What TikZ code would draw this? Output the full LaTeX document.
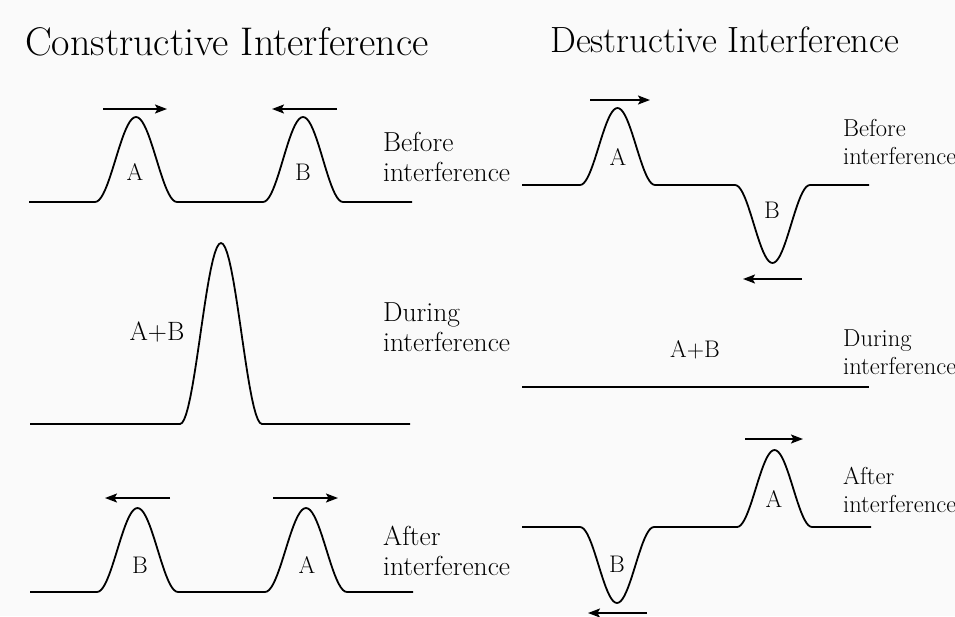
\documentclass[tikz,border=0pt]{standalone}
\usetikzlibrary{arrows.meta}

% one pulse of the string, from x=#1 to x=#2, top (or bottom) at y=#3, rest at y=#4
\newcommand{\bump}[4]{-- plot[domain=0:1, samples=41, variable=\t]
  ({#1+(#2-#1)*\t}, {#4+(#3-#4)*(1-cos(360*\t))/2})}

\begin{document}
\begin{tikzpicture}[x=1pt, y=-1pt,
        string/.style={line width=1.8pt, line join=round},
        motion/.style={line width=1.8pt,
          -{Stealth[length=12pt, width=9pt, inset=2.5pt]}},
        heading/.style={anchor=west, inner sep=0pt},
        caption/.style={anchor=west, align=left, inner sep=0pt,
          font=\fontsize{27.5}{30}\selectfont},
        letter/.style={inner sep=0pt, font=\fontsize{24}{28}\selectfont},
      ]
      \fill[white!98!black] (0,0) rectangle (955,616);
      \useasboundingbox (0,0) rectangle (955,616);

      % constructive interference
      \node[heading, font=\fontsize{40}{44}\selectfont] (titleC) at (25, 42)
      {Constructive Interference};

      \draw[string] (29,202) -- (95,202) \bump{95}{177}{117}{202}
        -- (263,202) \bump{263}{343}{117}{202} -- (412,202);
      \draw[motion] (103,109) -- (167,109);
      \draw[motion] (337,109) -- (272,109);
      \node[letter] (aBeforeC) at (135,172) {A};
      \node[letter] (bBeforeC) at (303,172) {B};
      \node[caption] (beforeC) at (383,157) {Before\\interference};

      \draw[string] (30,424) -- (180,424) \bump{180}{262}{243}{424}
        -- (410,424);
      \node[letter, font=\fontsize{26.5}{30}\selectfont] (abDuringC) at (157,332) {A+B};
      \node[caption] (duringC) at (383,327) {During\\interference};

      \draw[string] (30,592) -- (97,592) \bump{97}{178}{508}{592}
        -- (265,592) \bump{265}{347}{508}{592} -- (413,592);
      \draw[motion] (170,498) -- (105,498);
      \draw[motion] (273,498) -- (338,498);
      \node[letter] (bAfterC) at (140,565) {B};
      \node[letter] (aAfterC) at (307,565) {A};
      \node[caption] (afterC) at (383,551) {After\\interference};

      % destructive interference
      \node[heading, font=\fontsize{36.5}{40}\selectfont] (titleD) at (550, 40)
      {Destructive Interference};

      \draw[string] (522,185) -- (580,185) \bump{580}{655}{108}{185}
        -- (735,185) \bump{735}{810}{263}{185} -- (869,185);
      \draw[motion] (590,100) -- (650,100);
      \draw[motion] (802,279) -- (743,279);
      \node[letter] (aBeforeD) at (618,157) {A};
      \node[letter] (bBeforeD) at (772,210) {B};
      \node[caption, font=\fontsize{24.5}{28}\selectfont] (beforeD) at (843,142)
      {Before\\interference};

      \draw[string] (522,387) -- (869,387);
      \node[letter, font=\fontsize{24}{28}\selectfont] (abDuringD) at (695,350) {A+B};
      \node[caption, font=\fontsize{24.5}{28}\selectfont] (duringD) at (843,352)
      {During\\interference};

      \draw[string] (522,527) -- (580,527) \bump{580}{654}{603}{527}
        -- (737,527) \bump{737}{812}{450}{527} -- (871,527);
      \draw[motion] (745,439) -- (803,439);
      \draw[motion] (647,613) -- (588,613);
      \node[letter] (aAfterD) at (774,499) {A};
      \node[letter] (bAfterD) at (617,564) {B};
      \node[caption, font=\fontsize{24.5}{28}\selectfont] (afterD) at (843,490)
      {After\\interference};

    \end{tikzpicture}
\end{document}
